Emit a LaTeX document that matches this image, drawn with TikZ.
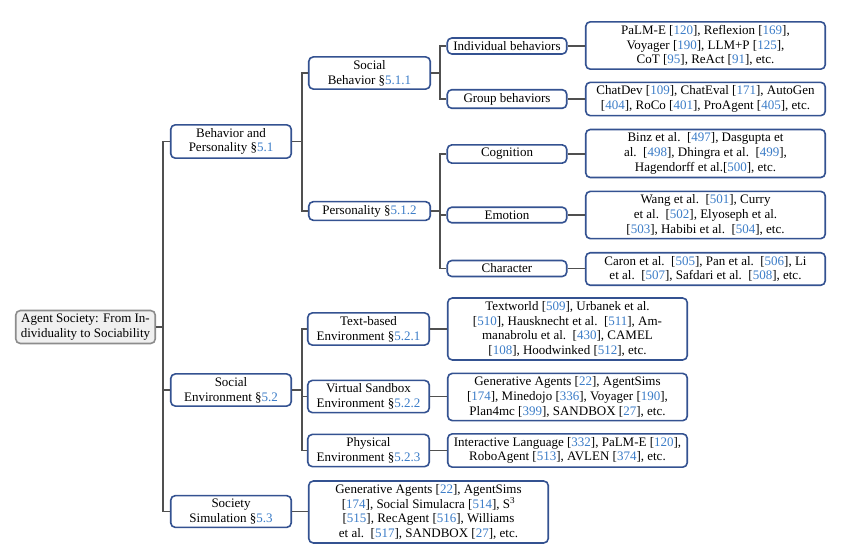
\documentclass[tikz,border=0pt]{standalone}
\usepackage{fontspec}
\setmainfont{Liberation Serif}
\definecolor{boxblue}{RGB}{52,82,145}
\definecolor{refblue}{RGB}{60,125,200}
\definecolor{conngray}{RGB}{80,80,80}
\definecolor{rootfill}{RGB}{240,240,240}
\definecolor{rootdraw}{RGB}{140,140,140}
\newcommand{\rf}[1]{\textcolor{refblue}{#1}}
\newcommand{\fs}{\fontsize{13}{14.7}\selectfont}
\tikzset{
  box/.style={draw=boxblue, line width=1.6pt, rounded corners=4.5pt, fill=white,
    align=center, inner xsep=3pt, inner ysep=3.4pt, font=\fs},
  lvA/.style={box, minimum width=120.5pt},
  lvB/.style={box, minimum width=121.5pt},
  lvC/.style={box, minimum width=119.5pt},
  leaf/.style={box, minimum width=239.5pt},
  rootbox/.style={box, draw=rootdraw, fill=rootfill, minimum width=139.5pt},
  conn/.style={draw=conngray, line width=1.4pt},
}
\begin{document}
\begin{tikzpicture}[x=1pt,y=-1pt]
\useasboundingbox (0,0) rectangle (861,549);
% root
\node[rootbox] (root) at (85.5,327) {Agent Society: From In-\\dividuality to Sociability};
% level 1
\node[lvA] (beh) at (231,141.5) {Behavior and\\Personality §\rf{5.1}};
\node[lvA] (env) at (231,390) {Social\\Environment §\rf{5.2}};
\node[lvA] (sim) at (231,511.5) {Society\\Simulation §\rf{5.3}};
% level 2
\node[lvB] (sb) at (369.5,73) {Social\\Behavior §\rf{5.1.1}};
\node[lvB] (pers) at (369.5,211) {Personality §\rf{5.1.2}};
\node[lvB] (tb) at (368.5,329) {Text-based\\Environment §\rf{5.2.1}};
\node[lvB] (vs) at (368.5,396.5) {Virtual Sandbox\\Environment §\rf{5.2.2}};
\node[lvB] (ph) at (368.5,450.5) {Physical\\Environment §\rf{5.2.3}};
% level 3
\node[lvC] (ib) at (507,46) {Individual behaviors};
\node[lvC] (gb) at (507,99) {Group behaviors};
\node[lvC] (cog) at (507,154) {Cognition};
\node[lvC] (emo) at (507,215) {Emotion};
\node[lvC] (chr) at (507,268.5) {Character};
% leaves
\node[leaf] (ibl) at (705.5,45.5) {PaLM-E [\rf{120}], Reflexion [\rf{169}],\\Voyager [\rf{190}], LLM+P [\rf{125}],\\CoT [\rf{95}], ReAct [\rf{91}], etc.};
\node[leaf] (gbl) at (705.5,99) {ChatDev [\rf{109}], ChatEval [\rf{171}], AutoGen\\{}[\rf{404}], RoCo [\rf{401}], ProAgent [\rf{405}], etc.};
\node[leaf] (cogl) at (705.5,153.5) {Binz et al.\ \ [\rf{497}], Dasgupta et\\al.\ \ [\rf{498}], Dhingra et al.\ \ [\rf{499}],\\Hagendorff et al.[\rf{500}], etc.};
\node[leaf] (emol) at (705.5,215) {Wang et al.\ \ [\rf{501}], Curry\\et al.\ \ [\rf{502}], Elyoseph et al.\\{}[\rf{503}], Habibi et al.\ \ [\rf{504}], etc.};
\node[leaf] (chrl) at (705.5,269) {Caron et al.\ \ [\rf{505}], Pan et al.\ \ [\rf{506}], Li\\et al.\ \ [\rf{507}], Safdari et al.\ \ [\rf{508}], etc.};
\node[leaf] (tbl) at (567.5,329) {Textworld [\rf{509}], Urbanek et al.\\{}[\rf{510}], Hausknecht et al.\ \ [\rf{511}], Am-\\manabrolu et al.\ \ [\rf{430}], CAMEL\\{}[\rf{108}], Hoodwinked [\rf{512}], etc.};
\node[leaf] (vsl) at (567.5,397) {Generative Agents [\rf{22}], AgentSims\\{}[\rf{174}], Minedojo [\rf{336}], Voyager [\rf{190}],\\Plan4mc [\rf{399}], SANDBOX [\rf{27}], etc.};
\node[leaf] (phl) at (567.5,450.5) {Interactive Language [\rf{332}], PaLM-E [\rf{120}],\\RoboAgent [\rf{513}], AVLEN [\rf{374}], etc.};
\node[leaf] (siml) at (428.5,512) {Generative Agents [\rf{22}], AgentSims\\{}[\rf{174}], Social Simulacra [\rf{514}], S\textsuperscript{3}\\{}[\rf{515}], RecAgent [\rf{516}], Williams\\et al.\ \ [\rf{517}], SANDBOX [\rf{27}], etc.};
% connectors
\foreach \c in {beh,env,sim} \draw[conn] (root.east) -- ++(7,0) |- (\c.west);
\foreach \c in {sb,pers} \draw[conn] (beh.east) -- ++(10,0) |- (\c.west);
\foreach \c in {tb,vs,ph} \draw[conn] (env.east) -- ++(10,0) |- (\c.west);
\foreach \c in {ib,gb} \draw[conn] (sb.east) -- ++(9,0) |- (\c.west);
\foreach \c in {cog,emo,chr} \draw[conn] (pers.east) -- ++(9,0) |- (\c.west);
\foreach \a/\b in {ib/ibl,gb/gbl,cog/cogl,emo/emol,chr/chrl,tb/tbl,vs/vsl,ph/phl,sim/siml}
  \draw[conn] (\a.east) -- (\a.east -| \b.west);
\end{tikzpicture}
\end{document}
